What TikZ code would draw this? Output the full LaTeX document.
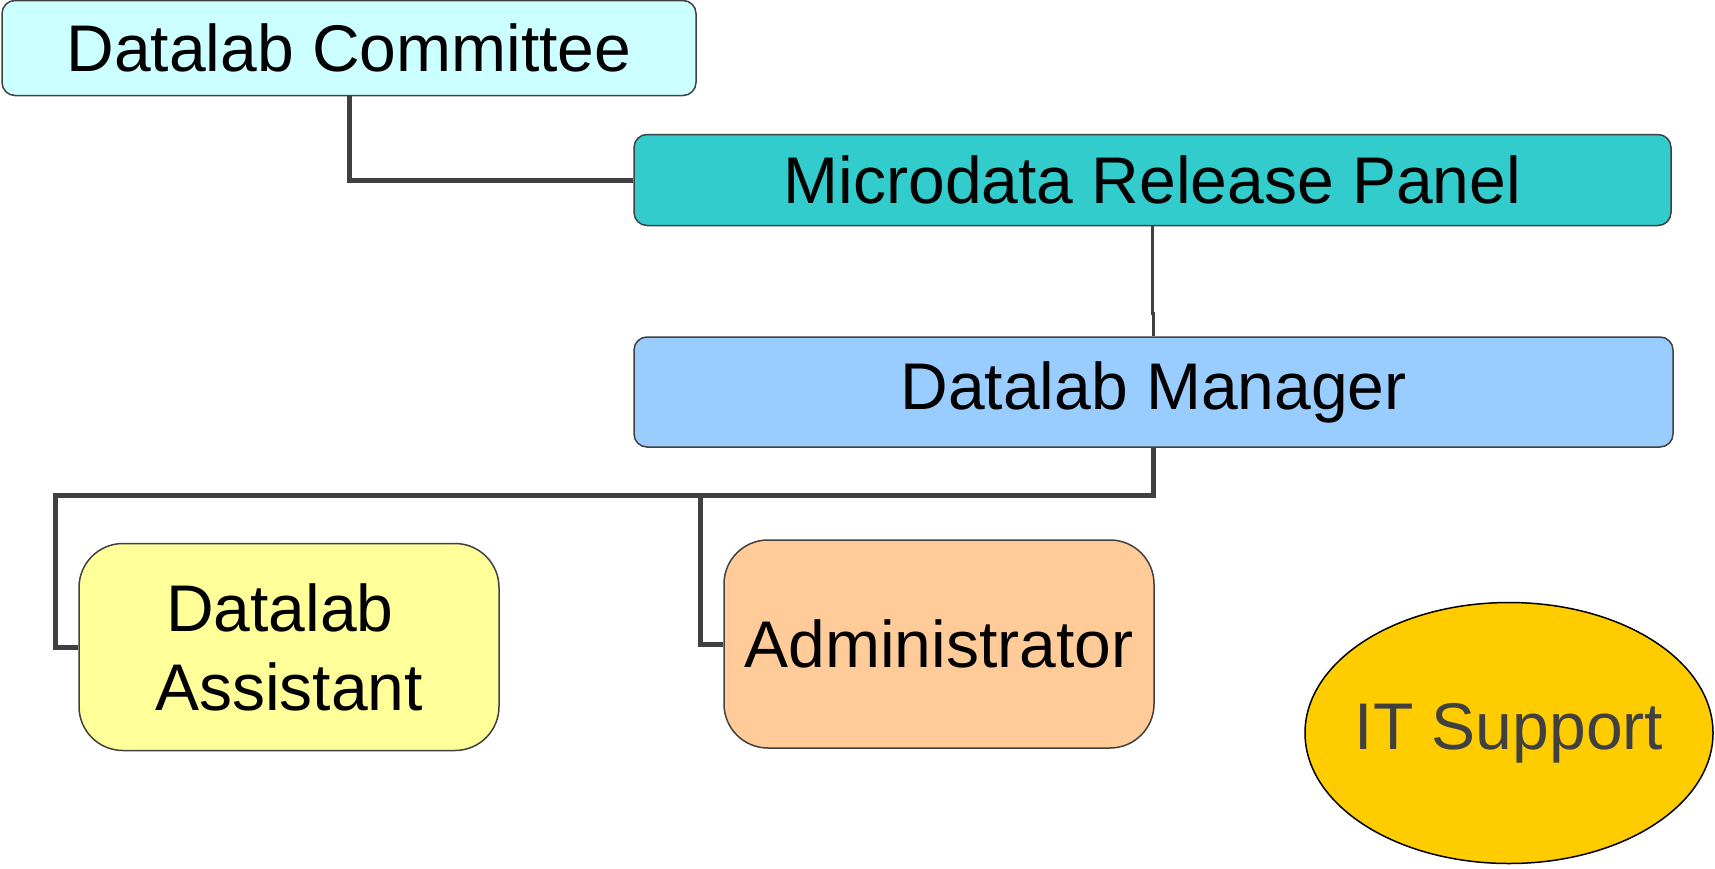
\documentclass[tikz,border=0pt]{standalone}
\usepackage{fontspec}
\setmainfont{Liberation Sans}
\usetikzlibrary{shapes.geometric}
\definecolor{linec}{HTML}{404040}
\definecolor{comfill}{HTML}{CCFFFF}
\definecolor{panfill}{HTML}{33CCCC}
\definecolor{manfill}{HTML}{99CCFF}
\definecolor{asstfill}{HTML}{FFFF99}
\definecolor{admfill}{HTML}{FFCC99}
\definecolor{itfill}{HTML}{FFCC00}
\tikzset{
  box/.style={draw=linec, line width=1.5pt, rounded corners=13pt, inner sep=0pt,
    font=\fontsize{66}{79}\selectfont, text=black, align=center},
  bigbox/.style={box, rounded corners=44pt},
  conn/.style={draw=linec, line width=5pt, line join=miter},
  thinconn/.style={draw=linec, line width=3.5pt, line join=miter}
}
\begin{document}
\begin{tikzpicture}[x=1pt, y=-1pt]
\useasboundingbox (0,0) rectangle (1715,868);
\node[box, fill=comfill, minimum width=694pt, minimum height=95pt] (com) at (349,48) {Datalab Committee};
\node[box, fill=panfill, minimum width=1037pt, minimum height=91pt] (pan) at (1152.5,180) {Microdata Release Panel};
\node[box, fill=manfill, minimum width=1039pt, minimum height=110pt] (man) at (1153.5,392) {Datalab Manager};
\node[bigbox, fill=asstfill, minimum width=420pt, minimum height=207pt] (asst) at (289,647) {Datalab\kern 0.278em\\Assistant};
\node[bigbox, fill=admfill, minimum width=430pt, minimum height=208pt] (adm) at (939,644) {Administrator};
\node[ellipse, draw=black, line width=1.5pt, fill=itfill, inner sep=0pt, minimum width=408pt, minimum height=261pt,
  font=\fontsize{66}{79}\selectfont, text=linec] (its) at (1509,733) {\makebox[0pt]{IT Support}};
\coordinate (j) at (700,495);
\coordinate (jl) at (55,495);
\draw[conn] (com.south) |- (pan.west);
\draw[thinconn] (pan.south) -- ++(0,87) -| (man.north);
\draw[conn] (man.south) |- (j);
\draw[conn] (j) |- (adm.west);
\draw[conn] (j) -- (jl) |- (asst.west);
\end{tikzpicture}
\end{document}
